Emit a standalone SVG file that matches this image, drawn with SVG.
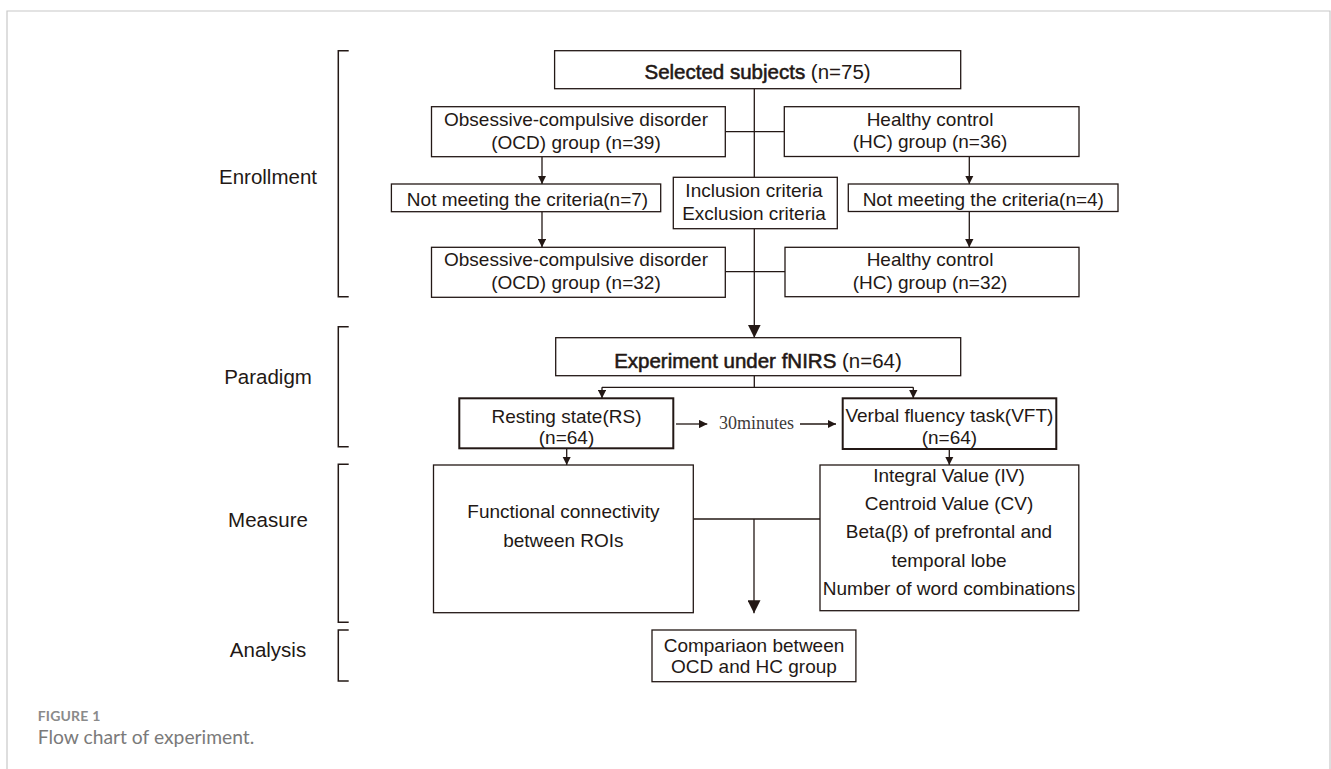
<svg xmlns="http://www.w3.org/2000/svg" width="1331" height="769" viewBox="0 0 1331 769">
<style>
.bx{fill:#fff;stroke:#231815;stroke-width:1.3}
.bx2{fill:#fff;stroke:#231815;stroke-width:2}
.t{font-family:"Liberation Sans",Arial,sans-serif;font-size:19px;fill:#231815;text-anchor:middle}
.tt{font-family:"Liberation Sans",Arial,sans-serif;font-size:20.5px;fill:#231815;text-anchor:middle}
.b{stroke:#231815;stroke-width:0.55}
.lab{font-family:"Liberation Sans",Arial,sans-serif;font-size:20.5px;fill:#231815;text-anchor:middle}
.ln{fill:none;stroke:#231815;stroke-width:1.3}
.br{fill:none;stroke:#231815;stroke-width:1.5}
.sa{marker-end:url(#a)}
.la{marker-end:url(#A)}
</style>
<defs>
<marker id="a" viewBox="0 0 10 10" refX="10" refY="5" markerWidth="8.5" markerHeight="8.5" markerUnits="userSpaceOnUse" orient="auto"><path d="M0,0 L10,5 L0,10 Z" fill="#231815"/></marker>
<marker id="A" viewBox="0 0 10 10" refX="10" refY="5" markerWidth="13" markerHeight="13" markerUnits="userSpaceOnUse" orient="auto"><path d="M0,0 L10,5 L0,10 Z" fill="#231815"/></marker>
</defs>
<rect width="1331" height="769" fill="#fff"/>
<path d="M7,769 V11 H1330 V769" fill="none" stroke="#c8c8c8" stroke-width="1.2"/>

<g id="stage-labels">
<text class="lab" x="268" y="184.3">Enrollment</text>
<text class="lab" x="268" y="384.3">Paradigm</text>
<text class="lab" x="268" y="526.7">Measure</text>
<text class="lab" x="268" y="657.3">Analysis</text>
<path class="br" d="M348.7,50.7 H338.3 V296.7 H348.7"/>
<path class="br" d="M348.7,326.7 H338.3 V446.7 H348.7"/>
<path class="br" d="M348.7,464.3 H338.3 V622.3 H348.7"/>
<path class="br" d="M348.7,630 H338.3 V681 H348.7"/>
</g>

<g id="connectors">
<path class="ln" d="M754.3,88.7 V177.3"/>
<path class="ln" d="M725.3,131.7 H784.3"/>
<path class="ln sa" d="M542,156.7 V184"/>
<path class="ln sa" d="M542,211.7 V247.3"/>
<path class="ln sa" d="M969.3,156.5 V184"/>
<path class="ln sa" d="M969.3,211.5 V247.3"/>
<path class="ln" d="M725.3,271.7 H785"/>
<path class="ln la" d="M754.3,228.7 V337.7"/>
<path class="ln" d="M754.3,375.7 V387.3 M602,387.3 H913.3"/>
<path class="ln sa" d="M602,387.3 V398.3"/>
<path class="ln sa" d="M913.3,387.3 V398.3"/>
<path class="ln sa" d="M676,424 H707.3"/>
<path class="ln sa" d="M800,424 H836"/>
<text x="719" y="428.5" font-family="'Liberation Serif','Times New Roman',serif" font-size="18" fill="#3e3a39">30minutes</text>
<path class="ln sa" d="M566.7,448.3 V465"/>
<path class="ln sa" d="M949.3,449 V465"/>
<path class="ln" d="M693.3,519 H820"/>
<path class="ln la" d="M754,519 V613.3"/>
</g>

<g id="selected">
<rect class="bx" x="554.6" y="50.7" width="406.1" height="38"/>
<text class="tt" x="757.6" y="79.3"><tspan class="b">Selected subjects</tspan> (n=75)</text>
</g>
<g id="ocd39">
<rect class="bx" x="431.5" y="106.7" width="293.8" height="50"/>
<text class="t" x="576" y="125.8">Obsessive-compulsive disorder</text>
<text class="t" x="576" y="148.8">(OCD) group (n=39)</text>
</g>
<g id="hc36">
<rect class="bx" x="784.3" y="106.7" width="294.7" height="49.8"/>
<text class="t" x="930" y="125.5">Healthy control</text>
<text class="t" x="930" y="148.3">(HC) group (n=36)</text>
</g>
<g id="nm7">
<rect class="bx" x="391.4" y="184" width="269.3" height="27.7"/>
<text class="t" x="527.5" y="205.5">Not meeting the criteria(n=7)</text>
</g>
<g id="criteria">
<rect class="bx" x="673.3" y="177.3" width="164" height="51.4"/>
<text class="t" x="754" y="197.3">Inclusion criteria</text>
<text class="t" x="754" y="219.5">Exclusion criteria</text>
</g>
<g id="nm4">
<rect class="bx" x="848.3" y="184" width="269.7" height="27.5"/>
<text class="t" x="983.3" y="205.5">Not meeting the criteria(n=4)</text>
</g>
<g id="ocd32">
<rect class="bx" x="431.5" y="247.3" width="293.8" height="50"/>
<text class="t" x="576" y="266">Obsessive-compulsive disorder</text>
<text class="t" x="576" y="289.3">(OCD) group (n=32)</text>
</g>
<g id="hc32">
<rect class="bx" x="785" y="247.3" width="294" height="49.4"/>
<text class="t" x="930" y="266">Healthy control</text>
<text class="t" x="930" y="288.5">(HC) group (n=32)</text>
</g>
<g id="experiment">
<rect class="bx" x="555.7" y="337.7" width="405" height="38"/>
<text class="tt" x="758" y="368.3"><tspan class="b">Experiment under fNIRS</tspan> (n=64)</text>
</g>
<g id="rs">
<rect class="bx2" x="459.3" y="398.3" width="214" height="50"/>
<text class="t" x="566.5" y="422.8">Resting state(RS)</text>
<text class="t" x="566.5" y="444">(n=64)</text>
</g>
<g id="vft">
<rect class="bx2" x="842.7" y="398.3" width="213.6" height="50.7"/>
<text class="t" x="949.4" y="422.3">Verbal fluency task(VFT)</text>
<text class="t" x="949.4" y="444.3">(n=64)</text>
</g>
<g id="fc">
<rect class="bx" x="433.5" y="465" width="259.8" height="147.7"/>
<text class="t" x="563.4" y="518.3">Functional connectivity</text>
<text class="t" x="563.4" y="546.7">between ROIs</text>
</g>
<g id="measures">
<rect class="bx" x="820" y="465" width="258.8" height="145.7"/>
<text class="t" x="949" y="481.7">Integral Value (IV)</text>
<text class="t" x="949" y="510">Centroid Value (CV)</text>
<text class="t" x="949" y="538.3">Beta(β) of prefrontal and</text>
<text class="t" x="949" y="566.7">temporal lobe</text>
<text class="t" x="949" y="595">Number of word combinations</text>
</g>
<g id="comparison">
<rect class="bx" x="652" y="630" width="203.9" height="51.7"/>
<text class="t" x="754" y="651.7">Compariaon between</text>
<text class="t" x="754" y="673.3">OCD and HC group</text>
</g>

<g id="caption">
<text x="37.7" y="721" font-family="Lato,'Open Sans',sans-serif" font-weight="bold" font-size="14" fill="#8a8a8a" letter-spacing="0.2">FIGURE 1</text>
<text x="37.7" y="744.3" font-family="Lato,'Open Sans',sans-serif" font-size="19.3" fill="#7a7a7a">Flow chart of experiment.</text>
</g>
</svg>
